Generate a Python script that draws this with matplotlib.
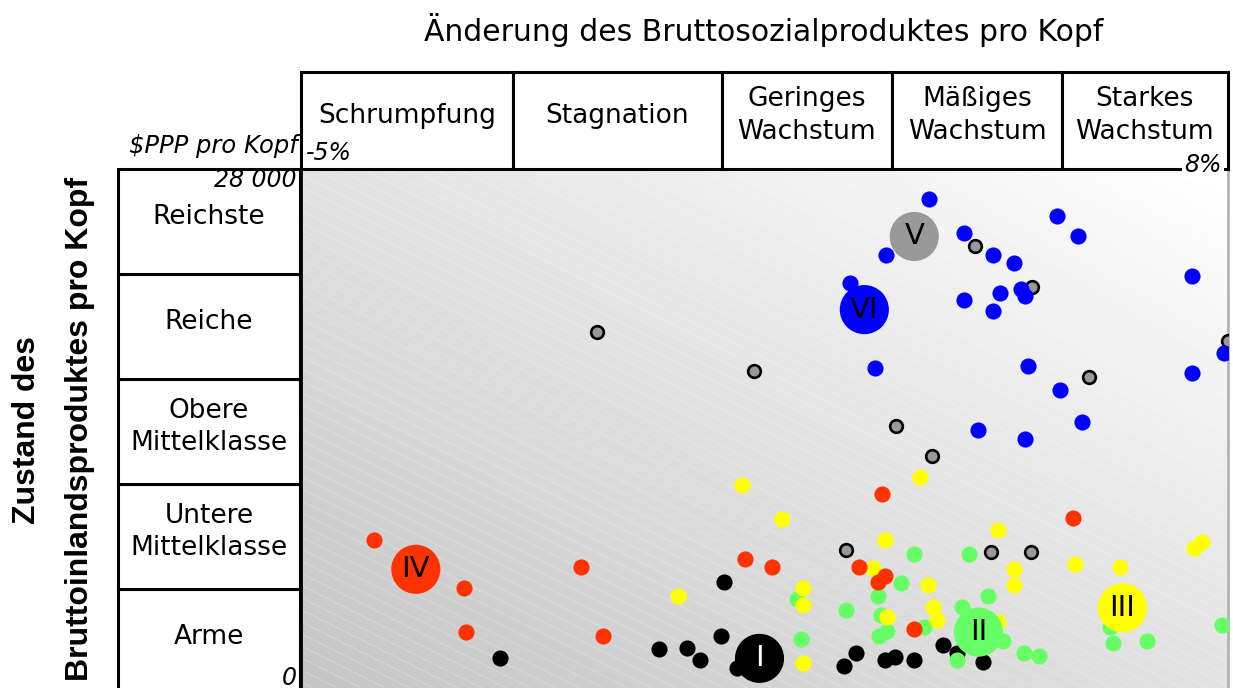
import numpy as np
import matplotlib.pyplot as plt
from matplotlib.patches import Rectangle
from matplotlib.collections import LineCollection

plt.rcParams['font.family'] = ['DejaVu Sans']

# x: Änderung des BSP pro Kopf (%), y: BIP pro Kopf ($PPP)
growth_edges = [-5, -2.03, 0.9, 3.29, 5.67, 8]
growth_labels = ['Schrumpfung', 'Stagnation', 'Geringes\nWachstum',
                 'Mäßiges\nWachstum', 'Starkes\nWachstum']
income_edges = [0, 5600, 11200, 16800, 22400, 28000]
income_labels = ['Arme', 'Untere\nMittelklasse', 'Obere\nMittelklasse',
                 'Reiche', 'Reichste']

gray_x = [4.45, 5.25, 8.0, 6.05, -0.85, 1.35, 3.35, 3.85, 2.64, 4.67, 5.24]
gray_y = [23900, 21700, 18800, 16900, 19300, 17200, 14300, 12700, 7700, 7600, 7600]

blue_x = [3.8, 3.2, 2.7, 3.05, 4.3, 5.6, 5.9, 4.7, 5.0, 5.1, 5.15,
          4.8, 4.3, 4.7, 7.5, 7.95, 5.2, 7.5, 5.65, 5.95, 4.5, 5.15]
blue_y = [26400, 23400, 21900, 17400, 24600, 25500, 24400, 23400, 23000, 21600, 21200,
          21400, 21000, 20400, 22300, 18200, 17500, 17100, 16200, 14500, 14100, 13600]

black_x = [-2.21, 0.93, 0.89, 0.02, 0.42, 0.59, 1.12, 2.78, 2.62, 3.19, 3.33,
           3.59, 4.0, 4.2, 4.57]
black_y = [1900, 6000, 3100, 2400, 2450, 1800, 1400, 2200, 1500, 1800, 1950,
           1800, 2600, 2200, 1700]

green_x = [3.59, 4.37, 4.64, 4.27, 3.73, 4.85, 4.2, 5.14, 5.35, 6.35, 6.39,
           6.86, 7.91, 3.42, 1.95, 3.09, 2.64, 3.14, 3.22, 3.11, 2.01]
green_y = [7450, 7450, 5250, 4650, 3600, 2850, 1800, 2200, 2050, 3600, 2700,
           2850, 3700, 5900, 5050, 5250, 4500, 4200, 3360, 3100, 2950]

yellow_x = [3.68, 1.19, 1.74, 3.19, 3.02, 0.29, 2.04, 2.04, 3.22, 2.04, 4.77,
            5.0, 5.0, 5.85, 6.49, 7.64, 7.53, 3.79, 3.86, 3.92, 4.78]
yellow_y = [11550, 11150, 9350, 8200, 6700, 5250, 5650, 4750, 4100, 1650, 8750,
            6650, 5800, 6950, 6800, 8100, 7800, 5800, 4650, 3950, 3850]

red_x = [-3.97, -2.72, -1.07, -2.68, -0.76, 1.23, 1.61, 3.15, 2.82, 3.19, 3.09,
         3.59, 5.82]
red_y = [8200, 5650, 6800, 3300, 3100, 7200, 6800, 10650, 6800, 6300, 6000,
         3450, 9400]

# Cluster-Zentren
cluster_names = ['I', 'II', 'III', 'IV', 'V', 'VI']
cluster_x = [1.43, 4.5, 6.52, -3.39, 3.6, 2.9]
cluster_y = [1900, 3300, 4600, 6650, 24400, 20500]

BLUE = '#0000ff'
GRAY = '#999999'
BLACK = '#000000'
GREEN = '#66ff66'
YELLOW = '#ffff00'
RED = '#ff3300'
cluster_colors = [BLACK, GREEN, YELLOW, RED, GRAY, BLUE]
cluster_textcolors = ['white', 'black', 'black', 'black', 'black', 'black']

W, H = 1233, 688
fig = plt.figure(figsize=(W / 100, H / 100), dpi=100)

# main plot area (pixel box 301..1228 x 169..694)
ax = fig.add_axes([301 / W, 1 - 694 / H, 927 / W, 525 / H])
ax.set_xlim(growth_edges[0], growth_edges[-1])
ax.set_ylim(income_edges[0], income_edges[-1])
ax.set_xticks([])
ax.set_yticks([])
for side in ['left', 'top']:
    ax.spines[side].set_color('black')
    ax.spines[side].set_linewidth(2)
ax.spines['right'].set_color('#b4b4b4')
ax.spines['right'].set_linewidth(2)
ax.spines['bottom'].set_visible(False)

# gradient background
gx, gy = np.meshgrid(np.linspace(0, 1, 300), np.linspace(0, 1, 300))
grad = 0.77 + 0.23 * (gx + gy) / 2
ax.imshow(grad, extent=[growth_edges[0], growth_edges[-1], income_edges[0], income_edges[-1]],
          origin='lower', aspect='auto', cmap='gray', vmin=0, vmax=1, zorder=0)

# faint diagonal stripes
segs = []
for c in np.arange(0, 1.95, 0.023):
    segs.append([(0, c), (1, c - 0.883)])
lc = LineCollection(segs, colors='white', linewidths=0.6, alpha=0.3,
                    transform=ax.transAxes, zorder=1)
ax.add_collection(lc)

small = 135
ax.scatter(gray_x, gray_y, s=83, c=GRAY, edgecolors='black', linewidths=1.9, zorder=3)
ax.scatter(blue_x, blue_y, s=small, c=BLUE, linewidths=0, zorder=3)
ax.scatter(black_x, black_y, s=small, c=BLACK, linewidths=0, zorder=3)
ax.scatter(green_x, green_y, s=small, c=GREEN, linewidths=0, zorder=3)
ax.scatter(yellow_x, yellow_y, s=small, c=YELLOW, linewidths=0, zorder=3)
ax.scatter(red_x, red_y, s=small, c=RED, linewidths=0, zorder=3)

ax.scatter(cluster_x, cluster_y, s=1250, c=cluster_colors, linewidths=0, zorder=4)
for name, x, y, tc in zip(cluster_names, cluster_x, cluster_y, cluster_textcolors):
    ax.text(x, y, name, ha='center', va='center', fontsize=21, color=tc, zorder=5)

# header boxes
ax_h = fig.add_axes([301 / W, 1 - 169 / H, 927 / W, 97 / H])
ax_h.set_xlim(growth_edges[0], growth_edges[-1])
ax_h.set_ylim(0, 1)
ax_h.axis('off')
for i, lab in enumerate(growth_labels):
    x0, x1 = growth_edges[i], growth_edges[i + 1]
    ax_h.add_patch(Rectangle((x0, 0), x1 - x0, 1, facecolor='white', edgecolor='black',
                             linewidth=2.2, clip_on=False))
    ax_h.text((x0 + x1) / 2, 0.55, lab, ha='center', va='center', fontsize=19,
              linespacing=1.32)

# row label boxes
ax_r = fig.add_axes([118 / W, 1 - 694 / H, 182 / W, 525 / H])
ax_r.set_xlim(0, 1)
ax_r.set_ylim(income_edges[0], income_edges[-1])
ax_r.axis('off')
for i, lab in enumerate(income_labels):
    y0, y1 = income_edges[i], income_edges[i + 1]
    ax_r.add_patch(Rectangle((0, y0), 1, y1 - y0, facecolor='white', edgecolor='black',
                             linewidth=2.2, clip_on=False))
    ax_r.text(0.5, (y0 + y1) / 2 + 240, lab, ha='center', va='center', fontsize=19,
              linespacing=1.32)

# small italic annotations
fig.text(298 / W, 1 - 146 / H, '$PPP pro Kopf', ha='right', va='center',
         fontsize=17.5, style='italic')
fig.text(306 / W, 1 - 153 / H, '-5%', ha='left', va='center', fontsize=17, style='italic')
fig.text(296 / W, 1 - 180 / H, '28 000', ha='right', va='center', fontsize=17, style='italic')
fig.text(297 / W, 1 - 678 / H, '0', ha='right', va='center', fontsize=17, style='italic')
fig.text(1222 / W, 1 - 165 / H, '8%', ha='right', va='center', fontsize=17, style='italic',
         bbox=dict(facecolor='white', edgecolor='none', pad=1.5), zorder=10)

# titles
fig.text(764 / W, 1 - 30 / H, 'Änderung des Bruttosozialproduktes pro Kopf',
         ha='center', va='center', fontsize=21.5)
fig.text(27 / W, 1 - 430 / H, 'Zustand des', rotation=90, ha='center', va='center',
         fontsize=23, fontweight='bold', family=['Liberation Sans', 'DejaVu Sans'])
fig.text(80 / W, 1 - 429 / H, 'Bruttoinlandsproduktes pro Kopf', rotation=90,
         ha='center', va='center', fontsize=23, fontweight='bold',
         family=['Liberation Sans', 'DejaVu Sans'])

fig.savefig('out.png', dpi=100)
